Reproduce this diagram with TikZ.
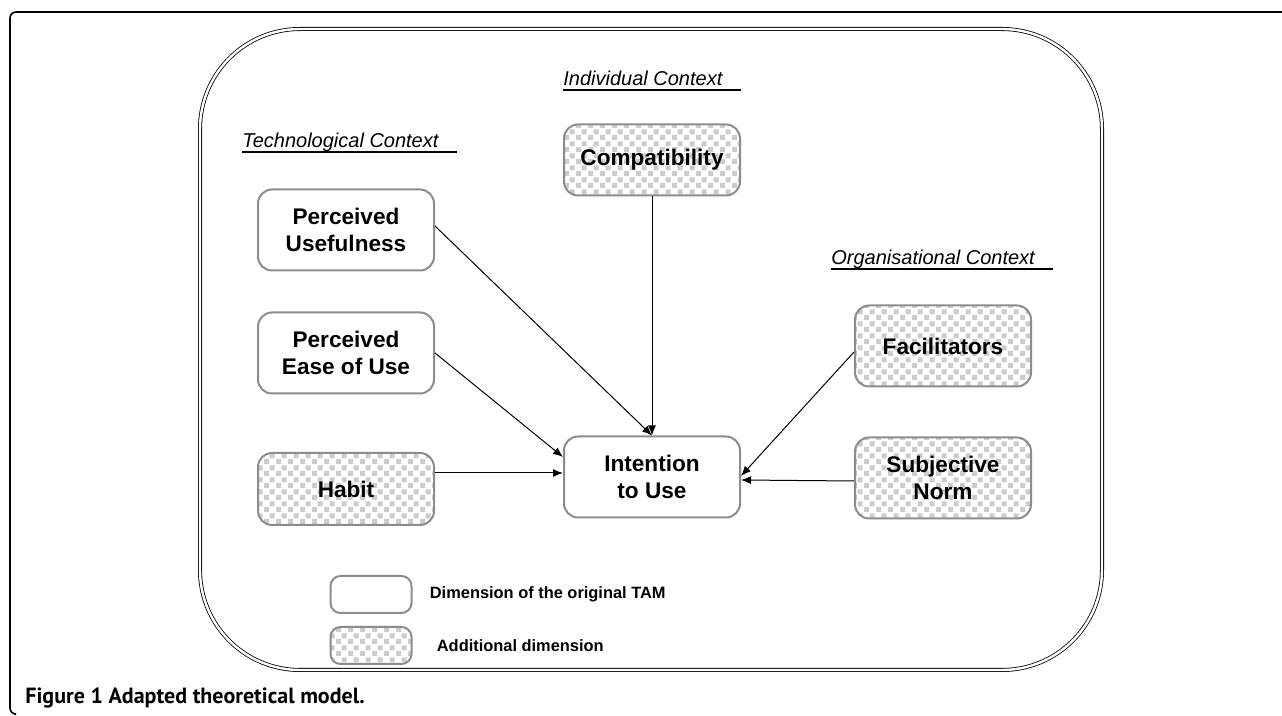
\documentclass[tikz,border=0pt]{standalone}
\usepackage{fontspec}
\setmainfont{Liberation Sans}
\newfontfamily\captionfont{PT Sans}
\usetikzlibrary{arrows.meta, positioning, patterns.meta}

% checker fill of the added dimensions
\tikzdeclarepattern{
  name=dimcheck, type=uncolored,
  bounding box={(0pt,0pt) and (6pt,6pt)},
  tile size={(6pt,6pt)},
  code={
    \fill (0pt,0pt) rectangle (2.7pt,2.7pt);
    \fill (3pt,3pt) rectangle (5.7pt,5.7pt);
  }
}

\begin{document}
\begin{tikzpicture}[
    x=0.5pt, y=-0.5pt,
    % styles of the boxes
    dimbase/.style={rectangle, rounded corners=7pt, draw=black!45, line width=1pt, minimum width=88pt, minimum height=40.5pt, align=center, font=\fontsize{11.3}{13.5}\selectfont\bfseries},
    orig/.style={dimbase, fill=white},
    extra/.style={dimbase, pattern=dimcheck, pattern color=black!20},
    ctx/.style={font=\fontsize{10}{12}\selectfont\itshape, inner sep=0pt, anchor=base west},
    uline/.style={line width=1pt},
    arrow/.style={-{Latex[length=5pt,width=4pt]}, line width=0.5pt},
    legtext/.style={font=\fontsize{8.2}{10}\selectfont\bfseries, inner sep=0pt}
]
\useasboundingbox (0,0) rectangle (1282,716);

% outer frame and model frame
\draw [line width=0.8pt, rounded corners=3pt] (1290,12) -- (10,12) -- (10,714) -- (14,714);
\draw [double, double distance=1.2pt, line width=0.4pt, rounded corners=50pt] (200,29) rectangle (1102,670);

% context labels
\node (tech) [ctx] at (242,148) {Technological Context};
\node (indiv) [ctx] at (563,86) {Individual Context};
\node (orga) [ctx] at (831,265) {Organisational Context};
\draw [uline] ([yshift=-2pt]tech.base west) -- ([xshift=9pt, yshift=-2pt]tech.base east);
\draw [uline] ([yshift=-2pt]indiv.base west) -- ([xshift=9pt, yshift=-2pt]indiv.base east);
\draw [uline] ([yshift=-2pt]orga.base west) -- ([xshift=9pt, yshift=-2pt]orga.base east);

% dimensions
\node (comp) [extra, minimum height=35.5pt] at (652,160) {Compatibility};
\node (int) [orig] at (652,477) {Intention\\to Use};
\node (pu) [orig] at (346,230) {Perceived\\Usefulness};
\node (peu) [orig] at (346,353) {Perceived\\Ease of Use};
\node (habit) [extra, minimum height=36pt] at (346,489) {Habit};
\node (fac) [extra] at (943,346) {Facilitators};
\node (subj) [extra] at (943,478) {Subjective\\Norm};

% arrows
\coordinate (habit_out) at ([yshift=8pt]habit.east);
\draw [arrow] ([yshift=2pt]pu.east) -- (int.north);
\draw [arrow] (comp.south) -- (int.north);
\draw [arrow] (peu.east) -- ([yshift=10pt]int.west);
\draw [arrow] (habit_out) -- (int.west |- habit_out);
\draw [arrow] ([yshift=-3pt]fac.west) -- ([yshift=0.5pt]int.east);
\draw [arrow] ([yshift=-1.5pt]subj.west) -- ([yshift=-1.5pt]int.east);

% legend
\node (leg_orig) [orig, minimum width=40.5pt, minimum height=18.5pt, rounded corners=5pt] at (371,594.5) {};
\node (leg_add) [extra, minimum width=40.5pt, minimum height=18.5pt, rounded corners=5pt] at (371,645.5) {};
\node (leg_orig_txt) [legtext, right=8.5pt of leg_orig] {Dimension of the original TAM};
\node (leg_add_txt) [legtext, right=12pt of leg_add] {Additional dimension};

% caption
\node (caption) [anchor=base west, inner sep=0pt, font=\captionfont\bfseries\fontsize{11}{13}\selectfont] at (25,704) {Figure 1 Adapted theoretical model.};
\end{tikzpicture}
\end{document}
